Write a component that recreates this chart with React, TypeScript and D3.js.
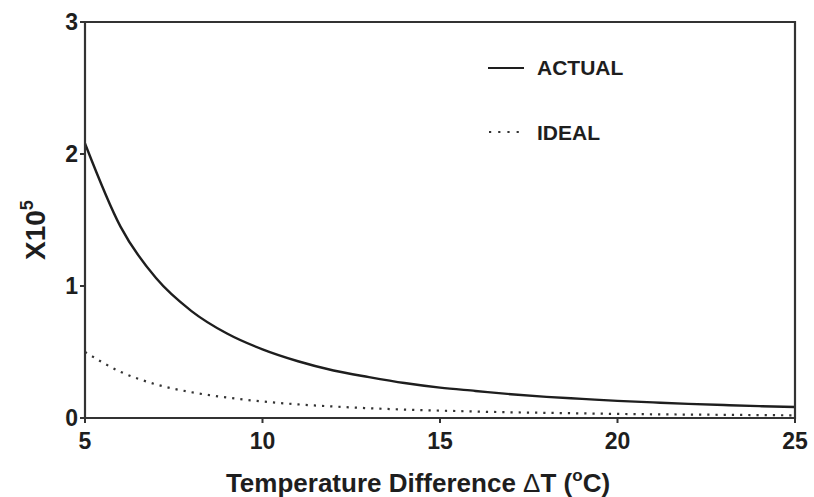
import React from "react";
import * as d3 from "d3";

const deltaT = [5, 6, 7, 8, 9, 10, 11, 12, 13, 14, 15, 16, 17, 18, 19, 20, 21, 22, 23, 24, 25];
const actual = [2.08, 1.45, 1.06, 0.81, 0.64, 0.52, 0.43, 0.36, 0.31, 0.265, 0.23, 0.205, 0.18, 0.16, 0.145, 0.13, 0.118, 0.107, 0.098, 0.09, 0.083];
const ideal = [0.5, 0.35, 0.255, 0.195, 0.155, 0.125, 0.103, 0.087, 0.074, 0.064, 0.056, 0.049, 0.043, 0.039, 0.035, 0.031, 0.028, 0.026, 0.024, 0.022, 0.02];
const xTicks = [5, 10, 15, 20, 25];
const yTicks = [0, 1, 2, 3];
const legendLabels = ["ACTUAL", "IDEAL"];

export default function App() {
  const W = 814, H = 497;
  const x = d3.scaleLinear().domain([5, 25]).range([85, 795]);
  const y = d3.scaleLinear().domain([0, 3]).range([418, 22]);
  const line = d3
    .line<number>()
    .x((_, i) => x(deltaT[i]))
    .y((d) => y(d))
    .curve(d3.curveMonotoneX);
  const font = "Arial, 'Liberation Sans', Helvetica, sans-serif";
  const ink = "#1e1e1e";
  return (
    <svg width={W} height={H} style={{ position: "absolute", left: 0, top: 0, background: "#fff" }} fontFamily={font}>
      <rect width={W} height={H} fill="#fff" />
      {/* data */}
      <path d={line(ideal) || ""} fill="none" stroke="#333" strokeWidth={2.2} strokeDasharray="2.2,6" />
      <path d={line(actual) || ""} fill="none" stroke={ink} strokeWidth={2.4} />
      {/* frame */}
      <path d={`M${x(5)},${y(0)} L${x(5)},${y(3)} L${x(25)},${y(3)} L${x(25)},${y(0)} Z`} fill="none" stroke="#333" strokeWidth={2.2} />
      {/* y ticks */}
      {yTicks.map((t) => (
        <g key={"y" + t}>
          <line x1={x(5) - 5} x2={x(5)} y1={y(t)} y2={y(t)} stroke="#333" strokeWidth={2} />
          <text x={x(5) - 7} y={y(t)} dy="0.36em" textAnchor="end" fontSize={23} fontWeight="bold" fill={ink}>
            {t}
          </text>
        </g>
      ))}
      {/* x ticks */}
      {xTicks.map((t) => (
        <g key={"x" + t}>
          <line x1={x(t)} x2={x(t)} y1={y(0)} y2={y(0) + 5} stroke="#333" strokeWidth={2} />
          <text x={x(t)} y={449} textAnchor="middle" fontSize={23} fontWeight="bold" fill={ink}>
            {t}
          </text>
        </g>
      ))}
      {/* x title */}
      <text x={418} y={492} textAnchor="middle" fontSize={26} fontWeight="bold" fill={ink}>
        Temperature Difference <tspan fontWeight="normal">Δ</tspan>T (<tspan fontSize={17} dy={-11}>o</tspan><tspan dy={11}>C)</tspan>
      </text>
      {/* y title */}
      <text transform="translate(45,260) rotate(-90)" fontSize={28} fontWeight="bold" fill={ink}>
        X10<tspan fontSize={18} dy={-12}>5</tspan>
      </text>
      {/* legend */}
      <line x1={488} x2={524} y1={68} y2={68} stroke={ink} strokeWidth={2} />
      <text x={537} y={75} fontSize={21} fontWeight="bold" fill={ink}>
        {legendLabels[0]}
      </text>
      <line x1={489} x2={521} y1={132} y2={132} stroke="#333" strokeWidth={2.2} strokeDasharray="2.2,7" />
      <text x={537} y={140} fontSize={21} fontWeight="bold" fill={ink}>
        {legendLabels[1]}
      </text>
    </svg>
  );
}
